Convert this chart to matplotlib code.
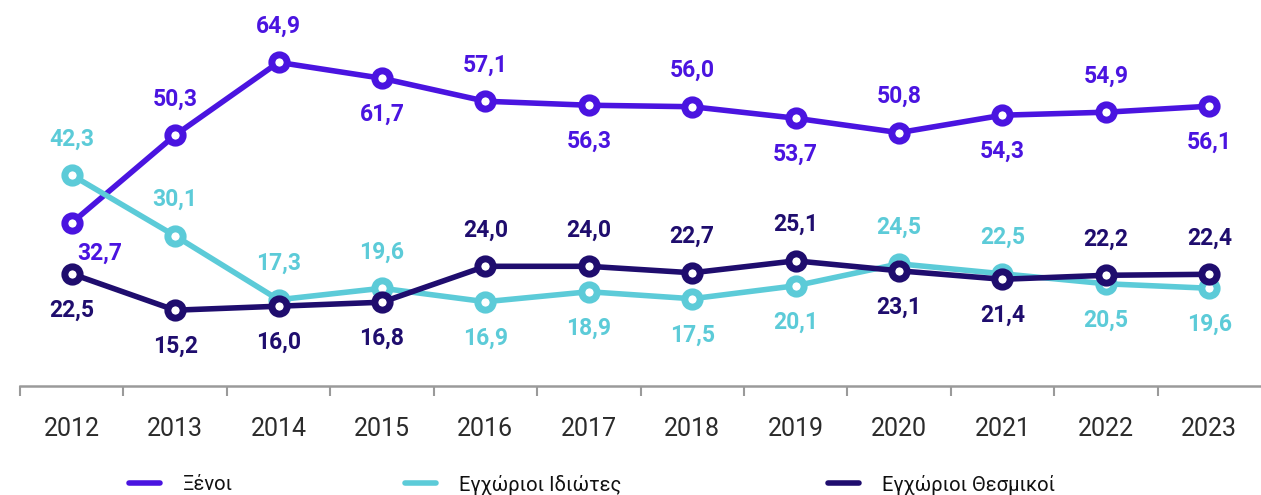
import matplotlib.pyplot as plt
from matplotlib.lines import Line2D

years = ["2012", "2013", "2014", "2015", "2016", "2017", "2018", "2019", "2020", "2021", "2022", "2023"]
xenoi = [32.7, 50.3, 64.9, 61.7, 57.1, 56.3, 56.0, 53.7, 50.8, 54.3, 54.9, 56.1]
idiotes = [42.3, 30.1, 17.3, 19.6, 16.9, 18.9, 17.5, 20.1, 24.5, 22.5, 20.5, 19.6]
thesmikoi = [22.5, 15.2, 16.0, 16.8, 24.0, 24.0, 22.7, 25.1, 23.1, 21.4, 22.2, 22.4]
names = ["Ξένοι", "Εγχώριοι Ιδιώτες", "Εγχώριοι Θεσμικοί"]

# label placement: 1 = above, -1 = below
pos_xenoi = [-1, 1, 1, -1, 1, -1, 1, -1, 1, -1, 1, -1]
pos_idiotes = [1, 1, 1, 1, -1, -1, -1, -1, 1, 1, -1, -1]
pos_thesmikoi = [-1, -1, -1, -1, 1, 1, 1, 1, -1, -1, 1, 1]

colors = ["#4a14e0", "#5ccbd8", "#1f0d6e"]

plt.rcParams["font.family"] = ["Roboto", "DejaVu Sans"]

fig = plt.figure(figsize=(12.61, 4.95), dpi=100)
ax = fig.add_axes([20 / 1261, 109 / 495, 1 - 20 / 1261, 1 - 109 / 495])

x = list(range(len(years)))
series = [(xenoi, pos_xenoi), (idiotes, pos_idiotes), (thesmikoi, pos_thesmikoi)]
for k, ((vals, pos), col, name) in enumerate(zip(series, colors, names)):
    ax.plot(x, vals, color=col, linewidth=4, marker="o", markersize=11,
            markerfacecolor="white", markeredgecolor=col, markeredgewidth=5,
            label=name, solid_capstyle="round", zorder=3)
    for i in range(len(x)):
        dx = 20 if (k == 0 and i == 0) else 0
        dy = 22 if (k == 0 and i == 0) else 26
        ax.annotate(f"{vals[i]:.1f}".replace(".", ","), (x[i], vals[i]),
                    textcoords="offset points", xytext=(dx, dy * pos[i]),
                    ha="center", va="center", fontsize=16.5, fontweight="bold",
                    color=col)

ax.set_xlim(-0.5, len(years) - 0.5)
ax.set_ylim(0, 77.4)
ax.set_yticks([])
for s in ["top", "right", "left"]:
    ax.spines[s].set_visible(False)
ax.spines["bottom"].set_color("#9a9a9a")
ax.spines["bottom"].set_linewidth(1.8)

ax.set_xticks([i - 0.5 for i in x])
ax.set_xticklabels([])
ax.set_xticks(x, minor=True)
ax.set_xticklabels(years, minor=True)
ax.tick_params(axis="x", which="major", length=7, width=1.5, color="#9a9a9a")
ax.tick_params(axis="x", which="minor", length=0, pad=22, labelsize=18, labelcolor="#2b2b2b")

# legend entries placed individually
leg_x = [129, 405, 828]
for lx, col, name in zip(leg_x, colors, names):
    fig.add_artist(Line2D([lx / 1261, (lx + 31) / 1261], [12 / 495, 12 / 495],
                          color=col, linewidth=4, solid_capstyle="round"))
    fig.text((lx + 54) / 1261, 10 / 495, name, fontsize=14.5, color="#111111",
             va="center", ha="left")

fig.savefig("out.png", dpi=100)
